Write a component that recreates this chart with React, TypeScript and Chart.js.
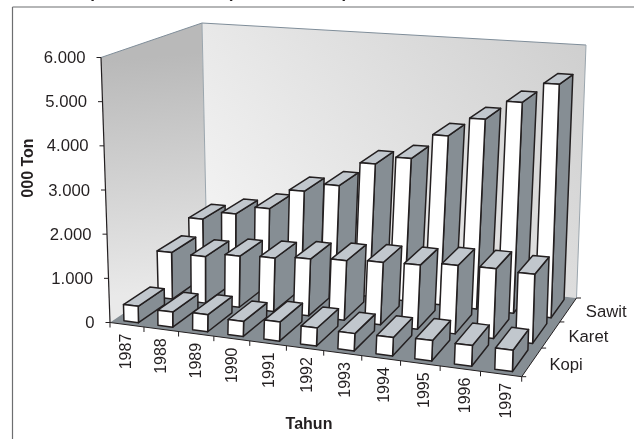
import React, { useEffect, useRef } from "react";
import { Chart, registerables } from "chart.js";

Chart.register(...registerables);

const years = ["1987", "1988", "1989", "1990", "1991", "1992", "1993", "1994", "1995", "1996", "1997"];
const seriesNames = ["Kopi", "Karet", "Sawit"];
const kopi = [370, 340, 380, 330, 420, 390, 370, 390, 430, 430, 440];
const karet = [1100, 1090, 1190, 1230, 1300, 1350, 1400, 1430, 1510, 1530, 1500];
const sawit = [1430, 1640, 1850, 2350, 2560, 3150, 3350, 3950, 4400, 4850, 5320];
const yMax = 6000;
const yStep = 1000;
const yTitle = "000 Ton";
const xTitle = "Tahun";
const titleMain = "Ekspor Perkebunan";
const titleNote = "(1987 s.d 1997)";

type P = [number, number];
// Reference frame of the 3D box on the page.
const FL: P = [110, 322.5];
const FR: P = [521.7, 376.7];
const BR: P = [576.5, 298];
const BL: P = [207, 257];
const TFL: P = [101, 57.5];
const TBL: P = [202, 23];
const TBR: P = [586, 45];
const TFR: P = [529, 82];

const BAR_W = 0.43; // share of a category
const BAR_D = 0.76; // share of a series slot

function homography(a: P, b: P, c: P, d: P) {
  // (0,0)=a (1,0)=b (1,1)=c (0,1)=d
  const dx1 = b[0] - c[0], dx2 = d[0] - c[0], sx = a[0] - b[0] + c[0] - d[0];
  const dy1 = b[1] - c[1], dy2 = d[1] - c[1], sy = a[1] - b[1] + c[1] - d[1];
  const den = dx1 * dy2 - dx2 * dy1;
  const g = (sx * dy2 - dx2 * sy) / den;
  const h = (dx1 * sy - sx * dy1) / den;
  const m = [b[0] - a[0] + g * b[0], d[0] - a[0] + h * d[0], a[0], b[1] - a[1] + g * b[1], d[1] - a[1] + h * d[1], a[1]];
  return (u: number, v: number): P => {
    const q = g * u + h * v + 1;
    return [(m[0] * u + m[1] * v + m[2]) / q, (m[3] * u + m[4] * v + m[5]) / q];
  };
}
const floorH = homography(FL, FR, BR, BL);
const topH = homography(TFL, TFR, TBR, TBL);
function project(u: number, v: number, w: number): P {
  const a = floorH(u, v);
  const b = topH(u, v);
  return [a[0] + (b[0] - a[0]) * w, a[1] + (b[1] - a[1]) * w];
}

function poly(ctx: CanvasRenderingContext2D, pts: P[], fill: string | CanvasGradient | null, stroke: string | null, lw = 1) {
  ctx.beginPath();
  pts.forEach((p, i) => (i ? ctx.lineTo(p[0], p[1]) : ctx.moveTo(p[0], p[1])));
  ctx.closePath();
  if (fill) {
    ctx.fillStyle = fill;
    ctx.fill();
  }
  if (stroke) {
    ctx.strokeStyle = stroke;
    ctx.lineWidth = lw;
    ctx.lineJoin = "round";
    ctx.stroke();
  }
}
function line(ctx: CanvasRenderingContext2D, a: P, b: P, color: string, lw: number) {
  ctx.beginPath();
  ctx.moveTo(a[0], a[1]);
  ctx.lineTo(b[0], b[1]);
  ctx.strokeStyle = color;
  ctx.lineWidth = lw;
  ctx.stroke();
}

const TEXT = "#231f20";
const FONT = '"Liberation Sans", Arial, sans-serif';

const box3d = {
  id: "box3d",
  beforeDatasetsDraw(chart: any) {
    const ctx: CanvasRenderingContext2D = chart.ctx;
    const ca = chart.chartArea;
    const xs = chart.scales.x, ys = chart.scales.y, zs = chart.scales.z;
    ctx.save();
    // frame
    line(ctx, [12.5, 7], [634, 7], "#6d6e70", 1.2);
    line(ctx, [12.5, 7], [12.5, 439], "#6d6e70", 1.2);
    // title, cut by the picture's top edge
    ctx.fillStyle = TEXT;
    ctx.font = `bold 17px ${FONT}`;
    ctx.textAlign = "left";
    ctx.textBaseline = "alphabetic";
    ctx.fillText(titleMain, 60, -2);
    ctx.fillText(titleNote, 227, -2);

    // walls
    const lg = ctx.createLinearGradient(TFL[0] + 40, TFL[1], FL[0] + 50, FL[1] - 30);
    lg.addColorStop(0, "#b9b9b9");
    lg.addColorStop(1, "#e9e9e9");
    poly(ctx, [FL, TFL, TBL, BL], lg, null);
    const bg2 = ctx.createLinearGradient(BL[0] + 60, BL[1] + 30, TBR[0], TBR[1]);
    bg2.addColorStop(0, "#f2f2f2");
    bg2.addColorStop(1, "#cfcfcf");
    poly(ctx, [BL, TBL, TBR, BR], bg2, null);
    line(ctx, BL, TBL, "#9aa5ad", 1);
    line(ctx, TFL, TBL, "#7f8d99", 1);
    line(ctx, TBL, TBR, "#7f8d99", 1);
    line(ctx, TBR, BR, "#9aa5ad", 1);
    // floor
    poly(ctx, [FL, FR, BR, BL], "#868e94", null);
    line(ctx, FL, FR, "#231f20", 1);
    line(ctx, FR, BR, "#231f20", 1);

    // value axis
    line(ctx, FL, TFL, "#231f20", 1.2);
    ctx.font = `16.7px ${FONT}`;
    ctx.fillStyle = TEXT;
    ctx.textBaseline = "middle";
    ctx.textAlign = "right";
    ys.ticks.forEach((t: any) => {
      const w = (ys.bottom - ys.getPixelForValue(t.value)) / (ys.bottom - ys.top);
      const p = project(0, 0, w);
      line(ctx, [p[0] - 4.5, p[1]], p, "#231f20", 1);
      ctx.fillText(ys.getLabelForValue(t.value).replace(/,/g, "."), p[0] - 15.5, p[1] + 1);
    });

    // category axis
    const n = years.length;
    for (let i = 0; i <= n; i++) {
      const p = project(i / n, 0, 0);
      line(ctx, p, [p[0], p[1] + 5], "#231f20", 1);
    }
    xs.ticks.forEach((t: any, i: number) => {
      const u = (xs.getPixelForTick(i) - ca.left) / ca.width;
      const p = project(u, 0, 0);
      ctx.save();
      ctx.translate(p[0] - 1 + u * 7, p[1] + 9);
      ctx.rotate(-Math.PI / 2);
      ctx.font = `16px ${FONT}`;
      ctx.textAlign = "right";
      ctx.textBaseline = "middle";
      ctx.fillText(String(t.label), 0, 0);
      ctx.restore();
    });

    // series axis
    const m = seriesNames.length;
    for (let i = 0; i <= m; i++) {
      const p = project(1, i / m, 0);
      line(ctx, p, [p[0] + 4.5, p[1]], "#231f20", 1);
    }
    ctx.textAlign = "left";
    ctx.textBaseline = "middle";
    zs.ticks.forEach((t: any, i: number) => {
      const v = (zs.getPixelForTick(i) - ca.left) / ca.width;
      const p = project(1, v, 0);
      ctx.fillText(String(t.label), p[0] + 17.5, p[1] + 3);
    });

    // axis titles
    ctx.font = `bold 16px ${FONT}`;
    ctx.textAlign = "center";
    ctx.fillText(xTitle, 309, 424.5);
    ctx.save();
    ctx.translate(29, 168);
    ctx.rotate(-Math.PI / 2);
    ctx.fillText(yTitle, 0, 0);
    ctx.restore();

    // bars, back series first
    for (let d = m - 1; d >= 0; d--) {
      const meta = chart.getDatasetMeta(d);
      const vc = (zs.getPixelForValue(d) - ca.left) / ca.width;
      const hv = BAR_D / m / 2;
      for (let i = 0; i < n; i++) {
        const el = meta.data[i];
        const uc = (xs.getPixelForValue(i) - ca.left) / ca.width;
        const hu = BAR_W / n / 2;
        const w = (el.base - el.y) / (ca.bottom - ca.top);
        const u0 = uc - hu, u1 = uc + hu, v0 = vc - hv, v1 = vc + hv;
        const dark = "#231f20";
        const lw = 1.5;
        poly(ctx, [project(u1, v0, 0), project(u1, v1, 0), project(u1, v1, w), project(u1, v0, w)], "#868e94", dark, lw);
        poly(ctx, [project(u0, v0, w), project(u1, v0, w), project(u1, v1, w), project(u0, v1, w)], "#c1c7cd", dark, lw);
        poly(ctx, [project(u0, v0, 0), project(u1, v0, 0), project(u1, v0, w), project(u0, v0, w)], "#ffffff", dark, lw);
      }
    }
    ctx.restore();
  },
};

export default function App() {
  const ref = useRef<HTMLCanvasElement>(null);
  useEffect(() => {
    document.body.style.margin = "0";
    document.body.style.background = "#ffffff";
    const chart = new Chart(ref.current!, {
      type: "bar",
      data: {
        labels: years,
        datasets: [
          { label: seriesNames[0], data: kopi, backgroundColor: "rgba(0,0,0,0)" },
          { label: seriesNames[1], data: karet, backgroundColor: "rgba(0,0,0,0)" },
          { label: seriesNames[2], data: sawit, backgroundColor: "rgba(0,0,0,0)" },
        ],
      },
      options: {
        animation: false,
        responsive: false,
        events: [],
        plugins: { legend: { display: false }, tooltip: { enabled: false } },
        scales: {
          x: { type: "category", display: false, offset: true },
          z: { type: "category", axis: "x", position: "bottom", display: false, labels: seriesNames, offset: true },
          y: {
            min: 0,
            max: yMax,
            display: false,
            ticks: { stepSize: yStep, callback: (v: any) => String(v) },
          },
        },
      },
      plugins: [box3d],
    } as any);
    return () => chart.destroy();
  }, []);
  return <canvas ref={ref} width={634} height={439} style={{ display: "block" }} />;
}
